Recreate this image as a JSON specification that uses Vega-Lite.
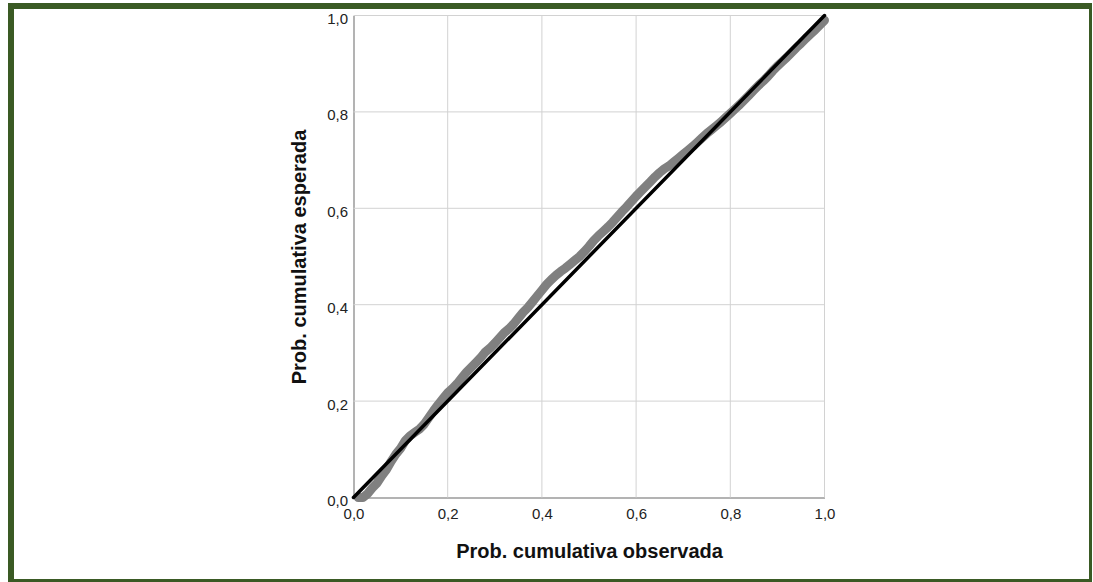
{
  "$schema": "https://vega.github.io/schema/vega-lite/v6.json",
  "width": 1081,
  "height": 576,
  "autosize": {"type": "none"},
  "padding": {"left": 11, "top": 6, "right": 0, "bottom": 0},
  "background": "white",
  "config": {
    "font": "Liberation Sans",
    "view": {"stroke": "#3a5a24", "strokeWidth": 6, "fill": "white"},
    "axis": {
      "domainColor": "#9a9a9a",
      "domainWidth": 1.5,
      "grid": false,
      "ticks": false,
      "labelFlush": false,
      "labelFont": "Liberation Sans",
      "labelFontSize": 15,
      "labelColor": "#222222",
      "titleFont": "Liberation Sans",
      "titleFontSize": 20,
      "titleFontWeight": "bold",
      "titleColor": "#111111"
    }
  },
  "datasets": {
    "grid": [
      {"v": 0.2},
      {"v": 0.4},
      {"v": 0.6},
      {"v": 0.8},
      {"v": 1.0}
    ],
    "obs": [
      {"obs": 0.01, "exp": 0.0},
      {"obs": 0.02, "exp": 0.0},
      {"obs": 0.03, "exp": 0.008},
      {"obs": 0.04, "exp": 0.02},
      {"obs": 0.05, "exp": 0.03},
      {"obs": 0.06, "exp": 0.045},
      {"obs": 0.07, "exp": 0.058},
      {"obs": 0.08, "exp": 0.075},
      {"obs": 0.09, "exp": 0.09},
      {"obs": 0.10, "exp": 0.102},
      {"obs": 0.11, "exp": 0.118},
      {"obs": 0.12, "exp": 0.128},
      {"obs": 0.13, "exp": 0.135},
      {"obs": 0.14, "exp": 0.142},
      {"obs": 0.15, "exp": 0.152},
      {"obs": 0.16, "exp": 0.166},
      {"obs": 0.17, "exp": 0.18},
      {"obs": 0.18, "exp": 0.193},
      {"obs": 0.19, "exp": 0.205},
      {"obs": 0.20, "exp": 0.217},
      {"obs": 0.21, "exp": 0.226},
      {"obs": 0.22, "exp": 0.236},
      {"obs": 0.23, "exp": 0.248},
      {"obs": 0.24, "exp": 0.26},
      {"obs": 0.25, "exp": 0.27},
      {"obs": 0.26, "exp": 0.28},
      {"obs": 0.27, "exp": 0.29},
      {"obs": 0.28, "exp": 0.302},
      {"obs": 0.29, "exp": 0.31},
      {"obs": 0.30, "exp": 0.32},
      {"obs": 0.31, "exp": 0.331},
      {"obs": 0.32, "exp": 0.342},
      {"obs": 0.33, "exp": 0.35},
      {"obs": 0.34, "exp": 0.36},
      {"obs": 0.35, "exp": 0.372},
      {"obs": 0.36, "exp": 0.384},
      {"obs": 0.37, "exp": 0.394},
      {"obs": 0.38, "exp": 0.406},
      {"obs": 0.39, "exp": 0.418},
      {"obs": 0.40, "exp": 0.43},
      {"obs": 0.41, "exp": 0.442},
      {"obs": 0.42, "exp": 0.452},
      {"obs": 0.43, "exp": 0.461},
      {"obs": 0.44, "exp": 0.469},
      {"obs": 0.45, "exp": 0.476},
      {"obs": 0.46, "exp": 0.484},
      {"obs": 0.47, "exp": 0.492},
      {"obs": 0.48, "exp": 0.5},
      {"obs": 0.49, "exp": 0.51},
      {"obs": 0.50, "exp": 0.521},
      {"obs": 0.51, "exp": 0.533},
      {"obs": 0.52, "exp": 0.543},
      {"obs": 0.53, "exp": 0.552},
      {"obs": 0.54, "exp": 0.561},
      {"obs": 0.55, "exp": 0.571},
      {"obs": 0.56, "exp": 0.582},
      {"obs": 0.57, "exp": 0.593},
      {"obs": 0.58, "exp": 0.603},
      {"obs": 0.59, "exp": 0.614},
      {"obs": 0.60, "exp": 0.625},
      {"obs": 0.61, "exp": 0.635},
      {"obs": 0.62, "exp": 0.645},
      {"obs": 0.63, "exp": 0.655},
      {"obs": 0.64, "exp": 0.665},
      {"obs": 0.65, "exp": 0.674},
      {"obs": 0.66, "exp": 0.682},
      {"obs": 0.67, "exp": 0.688},
      {"obs": 0.68, "exp": 0.696},
      {"obs": 0.69, "exp": 0.704},
      {"obs": 0.70, "exp": 0.712},
      {"obs": 0.71, "exp": 0.72},
      {"obs": 0.72, "exp": 0.728},
      {"obs": 0.73, "exp": 0.737},
      {"obs": 0.74, "exp": 0.746},
      {"obs": 0.75, "exp": 0.755},
      {"obs": 0.76, "exp": 0.763},
      {"obs": 0.77, "exp": 0.771},
      {"obs": 0.78, "exp": 0.779},
      {"obs": 0.79, "exp": 0.788},
      {"obs": 0.80, "exp": 0.797},
      {"obs": 0.81, "exp": 0.806},
      {"obs": 0.82, "exp": 0.815},
      {"obs": 0.83, "exp": 0.825},
      {"obs": 0.84, "exp": 0.835},
      {"obs": 0.85, "exp": 0.845},
      {"obs": 0.86, "exp": 0.855},
      {"obs": 0.87, "exp": 0.864},
      {"obs": 0.88, "exp": 0.874},
      {"obs": 0.89, "exp": 0.885},
      {"obs": 0.90, "exp": 0.895},
      {"obs": 0.91, "exp": 0.904},
      {"obs": 0.92, "exp": 0.913},
      {"obs": 0.93, "exp": 0.923},
      {"obs": 0.94, "exp": 0.933},
      {"obs": 0.95, "exp": 0.942},
      {"obs": 0.96, "exp": 0.952},
      {"obs": 0.97, "exp": 0.961},
      {"obs": 0.98, "exp": 0.97},
      {"obs": 0.99, "exp": 0.98},
      {"obs": 1.0, "exp": 0.99}
    ],
    "diag": [
      {"obs": 0, "exp": 0},
      {"obs": 1, "exp": 1}
    ]
  },
  "layer": [
    {
      "data": {"name": "grid"},
      "mark": {"type": "rule", "color": "#d2d2d2", "strokeWidth": 1},
      "encoding": {
        "x": {"field": "v", "type": "quantitative"},
        "y": {"datum": 0, "type": "quantitative"},
        "y2": {"datum": 1}
      }
    },
    {
      "data": {"name": "grid"},
      "mark": {"type": "rule", "color": "#d2d2d2", "strokeWidth": 1},
      "encoding": {
        "y": {"field": "v", "type": "quantitative"},
        "x": {"datum": 0, "type": "quantitative"},
        "x2": {"datum": 1}
      }
    },
    {
      "data": {"name": "obs"},
      "mark": {"type": "line", "color": "#808080", "strokeWidth": 9, "strokeCap": "round", "strokeJoin": "round"},
      "encoding": {
        "x": {"field": "obs", "type": "quantitative"},
        "y": {"field": "exp", "type": "quantitative"}
      }
    },
    {
      "data": {"name": "diag"},
      "mark": {"type": "line", "color": "#000000", "strokeWidth": 3.5, "strokeCap": "round"},
      "encoding": {
        "x": {
          "field": "obs",
          "type": "quantitative",
          "scale": {"domain": [0, 1], "range": [342.5, 813.5], "nice": false, "zero": false},
          "axis": {
            "orient": "bottom",
            "offset": -84.5,
            "values": [0, 0.2, 0.4, 0.6, 0.8, 1],
            "labelExpr": "replace(format(datum.value, '.1f'), '.', ',')",
            "labelPadding": 9,
            "title": "Prob. cumulativa observada",
            "titlePadding": 20
          }
        },
        "y": {
          "field": "exp",
          "type": "quantitative",
          "scale": {"domain": [0, 1], "range": [491.5, 9.5], "nice": false, "zero": false},
          "axis": {
            "orient": "left",
            "offset": -342.5,
            "values": [0, 0.2, 0.4, 0.6, 0.8, 1],
            "labelExpr": "replace(format(datum.value, '.1f'), '.', ',')",
            "labelPadding": 6,
            "labelOffset": 3,
            "title": "Prob. cumulativa esperada",
            "titlePadding": 17
          }
        }
      }
    }
  ]
}
